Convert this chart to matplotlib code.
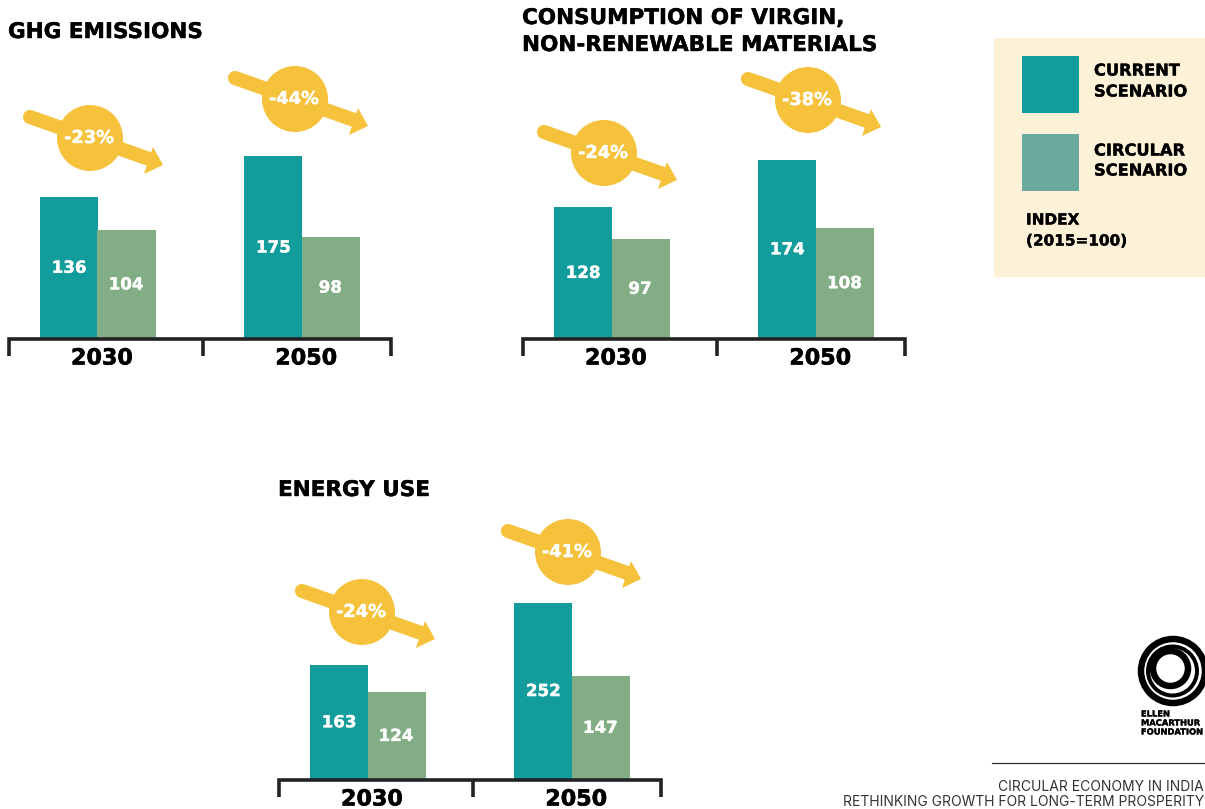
"""Circular economy in India: index bars for three impact measures."""

import matplotlib

matplotlib.use("Agg")
import matplotlib.patheffects as pe
import matplotlib.pyplot as plt
from matplotlib.patches import Circle, Polygon, Rectangle

years = ["2030", "2050"]

ghg_current = [136, 175]
ghg_circular = [104, 98]
ghg_change = ["-23%", "-44%"]

materials_current = [128, 174]
materials_circular = [97, 108]
materials_change = ["-24%", "-38%"]

energy_current = [163, 252]
energy_circular = [124, 147]
energy_change = ["-24%", "-41%"]

TEAL = "#129C9C"
GREEN = "#83AD85"
LEGEND_GREEN = "#6BAAA0"
YELLOW = "#F6C23C"
CREAM = "#FDF1D8"
DARK = "#222222"
W, H = 1205, 809
FONT = "DejaVu Sans"


def heavy(color, width=0.25):
    # the original face is heavier than DejaVu Bold, so thicken it a little
    return [pe.withStroke(linewidth=width, foreground=color)]


def draw_arrow(deco, cx, cy, label):
    # long pill going down-right, with the disc sitting over it
    deco.plot([cx - 60, cx + 62], [cy - 21, cy + 22], color=YELLOW, lw=10.2,
              solid_capstyle="round", zorder=2)
    deco.add_patch(Polygon([[cx + 73, cy + 27], [cx + 63, cy + 9], [cx + 54, cy + 36]],
                           color=YELLOW, lw=0, zorder=2))
    deco.add_patch(Circle((cx, cy), 33, color=YELLOW, lw=0, zorder=3))
    deco.text(cx - 1, cy, label, color="white", fontsize=12.8, fontweight="bold",
              family=FONT, ha="center", va="center", zorder=4,
              path_effects=heavy("white"))


def draw_panel(fig, deco, left, base, scale, current, circular, change, circles):
    width, height = 385, 300
    ax = fig.add_axes([left / W, 1 - base / H, width / W, height / H])
    ax.set_xlim(0, width)
    ax.set_ylim(0, height / scale)
    ax.axis("off")

    for i, offset in enumerate([32, 236.3]):
        ax.bar(offset, current[i], 57.5, align="edge", color=TEAL)
        ax.bar(offset + 57.5, circular[i], 58.5, align="edge", color=GREEN)
        ax.text(offset + 29, current[i] / 2, str(current[i]), color="white",
                fontsize=12, fontweight="bold", family=FONT, ha="center", va="center",
                path_effects=heavy("white"))
        ax.text(offset + 86, circular[i] / 2, str(circular[i]), color="white",
                fontsize=12, fontweight="bold", family=FONT, ha="center", va="center",
                path_effects=heavy("white"))
        deco.text(left + offset + 62, base + 20, years[i], color="black", fontsize=16,
                  fontweight="bold", family=FONT, ha="center", va="center",
                  path_effects=heavy("black", 0.4))
        draw_arrow(deco, circles[i][0], circles[i][1], change[i])

    # bracket under the bars
    deco.plot([left + 0.5, left + 0.5, left + 383, left + 383],
              [base + 17, base, base, base + 17], color=DARK, lw=2.6,
              solid_joinstyle="miter", solid_capstyle="butt")
    deco.plot([left + 195, left + 195], [base, base + 17], color=DARK, lw=2.6,
              solid_capstyle="butt")


def draw_legend(deco):
    deco.add_patch(Rectangle((994, 38), 211, 239, color=CREAM, lw=0))
    deco.add_patch(Rectangle((1022, 56), 57, 57, color=TEAL, lw=0))
    deco.add_patch(Rectangle((1022, 134), 57, 57, color=LEGEND_GREEN, lw=0))
    style = dict(color="black", fontsize=11.7, fontweight="bold", family=FONT, va="center",
                 path_effects=heavy("black"))
    deco.text(1094, 71, "CURRENT", **style)
    deco.text(1094, 92, "SCENARIO", **style)
    deco.text(1094, 151, "CIRCULAR", **style)
    deco.text(1094, 171, "SCENARIO", **style)
    style["fontsize"] = 11
    deco.text(1026, 220, "INDEX", **style)
    deco.text(1026, 241, "(2015=100)", **style)


def draw_footer(deco):
    # logo rings, each slightly off centre so they read as a spiral
    rings = [((1173, 671), 32, 6.5), ((1172.5, 671), 24.5, 4), ((1170.5, 668.5), 17.5, 6.5)]
    for centre, radius, ring_w in rings:
        deco.add_patch(Circle(centre, radius, fill=False, ec="black", lw=ring_w * 0.72))
    style = dict(color="black", fontsize=6, fontweight="bold", family=FONT, va="center",
                 path_effects=heavy("black", 0.2))
    deco.text(1141, 714, "ELLEN", **style)
    deco.text(1141, 723, "MACARTHUR", **style)
    deco.text(1141, 732, "FOUNDATION", **style)

    deco.plot([992, 1205], [763, 763], color="#333333", lw=0.9)
    foot = dict(color="#333333", fontsize=10, family="Inter", ha="right", va="center")
    deco.text(1204, 787, "CIRCULAR ECONOMY IN INDIA", **foot)
    deco.text(1204, 802, "RETHINKING GROWTH FOR LONG-TERM PROSPERITY", **foot)


def generate(filename):
    fig = plt.figure(figsize=(W / 100, H / 100), dpi=100)
    deco = fig.add_axes([0, 0, 1, 1], zorder=5)
    deco.set_xlim(0, W)
    deco.set_ylim(H, 0)
    deco.axis("off")
    deco.patch.set_alpha(0)

    draw_panel(fig, deco, 8, 338.5, 1.04, ghg_current, ghg_circular, ghg_change,
               [(90, 138), (295, 99)])
    draw_panel(fig, deco, 522, 338.5, 1.025, materials_current, materials_circular,
               materials_change, [(604, 153), (808, 100)])
    draw_panel(fig, deco, 278, 779.5, 0.702, energy_current, energy_circular,
               energy_change, [(362, 612), (568, 552)])

    title = dict(color="black", fontsize=15.5, fontweight="bold", family=FONT, va="center",
                 path_effects=heavy("black", 0.3))
    deco.text(8, 32, "GHG EMISSIONS", **title)
    deco.text(522, 18, "CONSUMPTION OF VIRGIN,", **title)
    deco.text(522, 45, "NON-RENEWABLE MATERIALS", **title)
    deco.text(278, 490, "ENERGY USE", **title)

    draw_legend(deco)
    draw_footer(deco)

    fig.savefig(filename, dpi=100)


if __name__ == "__main__":
    generate("out.png")
